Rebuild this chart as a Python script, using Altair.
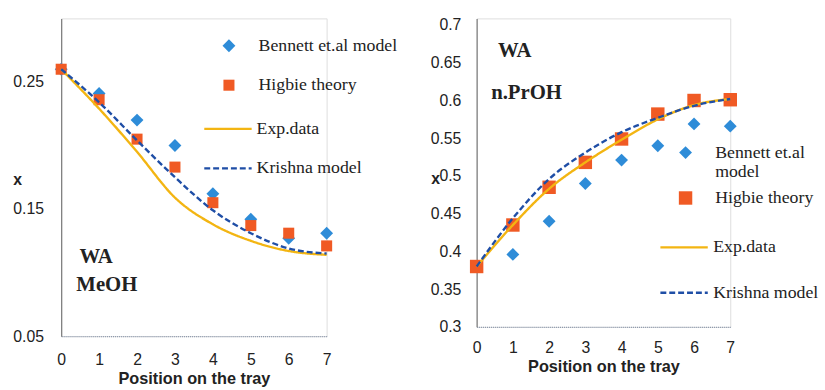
import altair as alt
import pandas as pd

# ---------------- data ----------------
positions = [0, 1, 2, 3, 4, 5, 6, 7]
series_names = ["Bennett et.al model", "Higbie theory", "Exp.data", "Krishna model"]
series_colors = ["#2E8CD8", "#F05A24", "#F3B512", "#1F4EA6"]

# WA / MeOH panel
meoh_bennett = [0.260, 0.241, 0.220, 0.200, 0.162, 0.142, 0.127, 0.131]
meoh_higbie = [0.260, 0.236, 0.205, 0.183, 0.155, 0.137, 0.131, 0.121]
meoh_exp = [0.260, 0.229, 0.195, 0.159, 0.138, 0.125, 0.117, 0.114]
meoh_krishna = [0.260, 0.234, 0.204, 0.175, 0.149, 0.131, 0.119, 0.115]
meoh_ticks = [0.05, 0.15, 0.25]
meoh_labels = ["WA", "MeOH"]
meoh_label_x = [0.48, 0.40]
meoh_label_y = [0.1125, 0.0900]

# WA / n.PrOH panel
proh_bennett = [0.380, 0.396, 0.440, 0.490, 0.521, 0.540, 0.569, 0.566]
proh_higbie = [0.380, 0.435, 0.485, 0.518, 0.549, 0.582, 0.600, 0.601]
proh_exp = [0.380, 0.435, 0.483, 0.518, 0.548, 0.575, 0.594, 0.602]
proh_krishna = [0.380, 0.444, 0.496, 0.531, 0.558, 0.577, 0.593, 0.602]
proh_ticks = [0.3, 0.35, 0.4, 0.45, 0.5, 0.55, 0.6, 0.65, 0.7]
proh_labels = ["WA", "n.PrOH"]
proh_label_x = [0.59, 0.40]
proh_label_y = [0.666, 0.610]

SANS = "Liberation Sans"
SERIF = "Liberation Serif"


def panel(bennett, higbie, exp, krishna, ydomain, yticks, width, height,
          ann_text, ann_x, ann_y, ylab_pad, xlab_pad, ytitle_x, ytitle_y,
          pleg, lleg, marker_sizes, wrap_bennett=False):
    pts = pd.DataFrame({
        "pos": positions * 2,
        "val": bennett + higbie,
        "series": [series_names[0]] * 8 + [series_names[1]] * 8,
    })
    lns = pd.DataFrame({
        "pos": positions * 2,
        "val": exp + krishna,
        "line": [series_names[2]] * 8 + [series_names[3]] * 8,
    })
    ann = pd.DataFrame({"pos": ann_x, "val": ann_y, "txt": ann_text})

    xscale = alt.Scale(domain=[0, 7], nice=False, zero=False)
    yscale = alt.Scale(domain=ydomain, nice=False, zero=False)
    xaxis = alt.Axis(values=positions, title="Position on the tray", ticks=False, grid=False,
                     labelFont=SANS, labelFontSize=16, labelColor="#222222", labelAngle=0,
                     labelPadding=xlab_pad, labelFlush=False,
                     titleFont=SANS, titleFontSize=16.5, titleFontWeight="bold", titleColor="#222222",
                     titlePadding=3,
                     domainColor="#8d99ad", domainDash=[1, 1], domainWidth=1.2)
    yaxis = alt.Axis(values=yticks, format=".2~f", title="x", ticks=False, grid=False,
                     labelFont=SANS, labelFontSize=16, labelColor="#222222",
                     labelPadding=ylab_pad, labelFlush=False,
                     titleFont=SANS, titleFontSize=16, titleFontWeight="bold", titleColor="#222222",
                     titleAngle=0, titleAlign="center", titleBaseline="middle",
                     titleX=ytitle_x, titleY=ytitle_y,
                     domainColor="#7a7a7a", domainWidth=1.2)

    label_expr = ("datum.label == 'Bennett et.al model' ? ['Bennett et.al', 'model'] : datum.label"
                  if wrap_bennett else "datum.label")
    point_legend = alt.Legend(orient="none", legendX=pleg[0], legendY=pleg[1], title=None,
                              labelFont=SERIF, labelFontSize=18, labelColor="#222222",
                              labelOffset=pleg[2], rowPadding=pleg[3], padding=0,
                              symbolSize=64, symbolStrokeWidth=0, labelExpr=label_expr,
                              labelLimit=300)
    line_legend = alt.Legend(orient="none", legendX=lleg[0], legendY=lleg[1], title=None,
                             labelFont=SERIF, labelFontSize=18, labelColor="#222222",
                             labelOffset=lleg[2], rowPadding=lleg[3], padding=0,
                             symbolType="stroke", symbolSize=2304, symbolStrokeWidth=2.4,
                             clipHeight=18, labelLimit=300)

    points = alt.Chart(pts).mark_point(filled=True, opacity=1, strokeWidth=0).encode(
        x=alt.X("pos:Q", scale=xscale, axis=xaxis),
        y=alt.Y("val:Q", scale=yscale, axis=yaxis),
        color=alt.Color("series:N", scale=alt.Scale(domain=series_names[:2], range=series_colors[:2]),
                        legend=point_legend),
        shape=alt.Shape("series:N", scale=alt.Scale(domain=series_names[:2], range=["diamond", "square"]),
                        legend=point_legend),
        size=alt.Size("series:N", scale=alt.Scale(domain=series_names[:2], range=marker_sizes), legend=None),
    )
    lines = alt.Chart(lns).mark_line(strokeWidth=2.4, interpolate="monotone").encode(
        x=alt.X("pos:Q", scale=xscale, axis=xaxis),
        y=alt.Y("val:Q", scale=yscale, axis=yaxis),
        color=alt.Color("line:N", scale=alt.Scale(domain=series_names[2:], range=series_colors[2:]),
                        legend=line_legend),
        strokeDash=alt.StrokeDash("line:N", scale=alt.Scale(domain=series_names[2:], range=[[1, 0], [6, 3]]),
                                  legend=line_legend),
    )
    texts = alt.Chart(ann).mark_text(font=SERIF, fontSize=21, fontWeight="bold", align="left",
                                     baseline="middle", color="#222222").encode(
        x=alt.X("pos:Q", scale=xscale, axis=xaxis),
        y=alt.Y("val:Q", scale=yscale, axis=yaxis),
        text="txt:N",
    )
    return alt.layer(points, lines, texts).resolve_scale(
        color="independent", shape="independent", strokeDash="independent", size="independent"
    ).properties(width=width, height=height)


left = panel(meoh_bennett, meoh_higbie, meoh_exp, meoh_krishna, [0.05, 0.30], meoh_ticks,
             269, 322, meoh_labels, meoh_label_x, meoh_label_y,
             ylab_pad=18, xlab_pad=16, ytitle_x=-44.5, ytitle_y=163,
             pleg=[161, 18.7, 21, 22], lleg=[143.5, 103, 3.5, 22], marker_sizes=[170, 125])
right = panel(proh_bennett, proh_higbie, proh_exp, proh_krishna, [0.3, 0.7088], proh_ticks,
              257, 312.6, proh_labels, proh_label_x, proh_label_y,
              ylab_pad=16, xlab_pad=13, ytitle_x=-42, ytitle_y=162,
              pleg=[202.7, 127, 21, 8], lleg=[184.7, 223, 4, 28], marker_sizes=[170, 185],
              wrap_bennett=True)

chart = alt.hconcat(left, right, spacing=152, bounds="flush").resolve_scale(
    color="independent", shape="independent", strokeDash="independent", size="independent",
    x="independent", y="independent"
).properties(
    padding={"left": 12, "top": 14, "right": 5, "bottom": 5}
).configure_view(stroke=None).configure(background="white")

chart.save("out.html", embed_options={"renderer": "svg", "actions": False})
